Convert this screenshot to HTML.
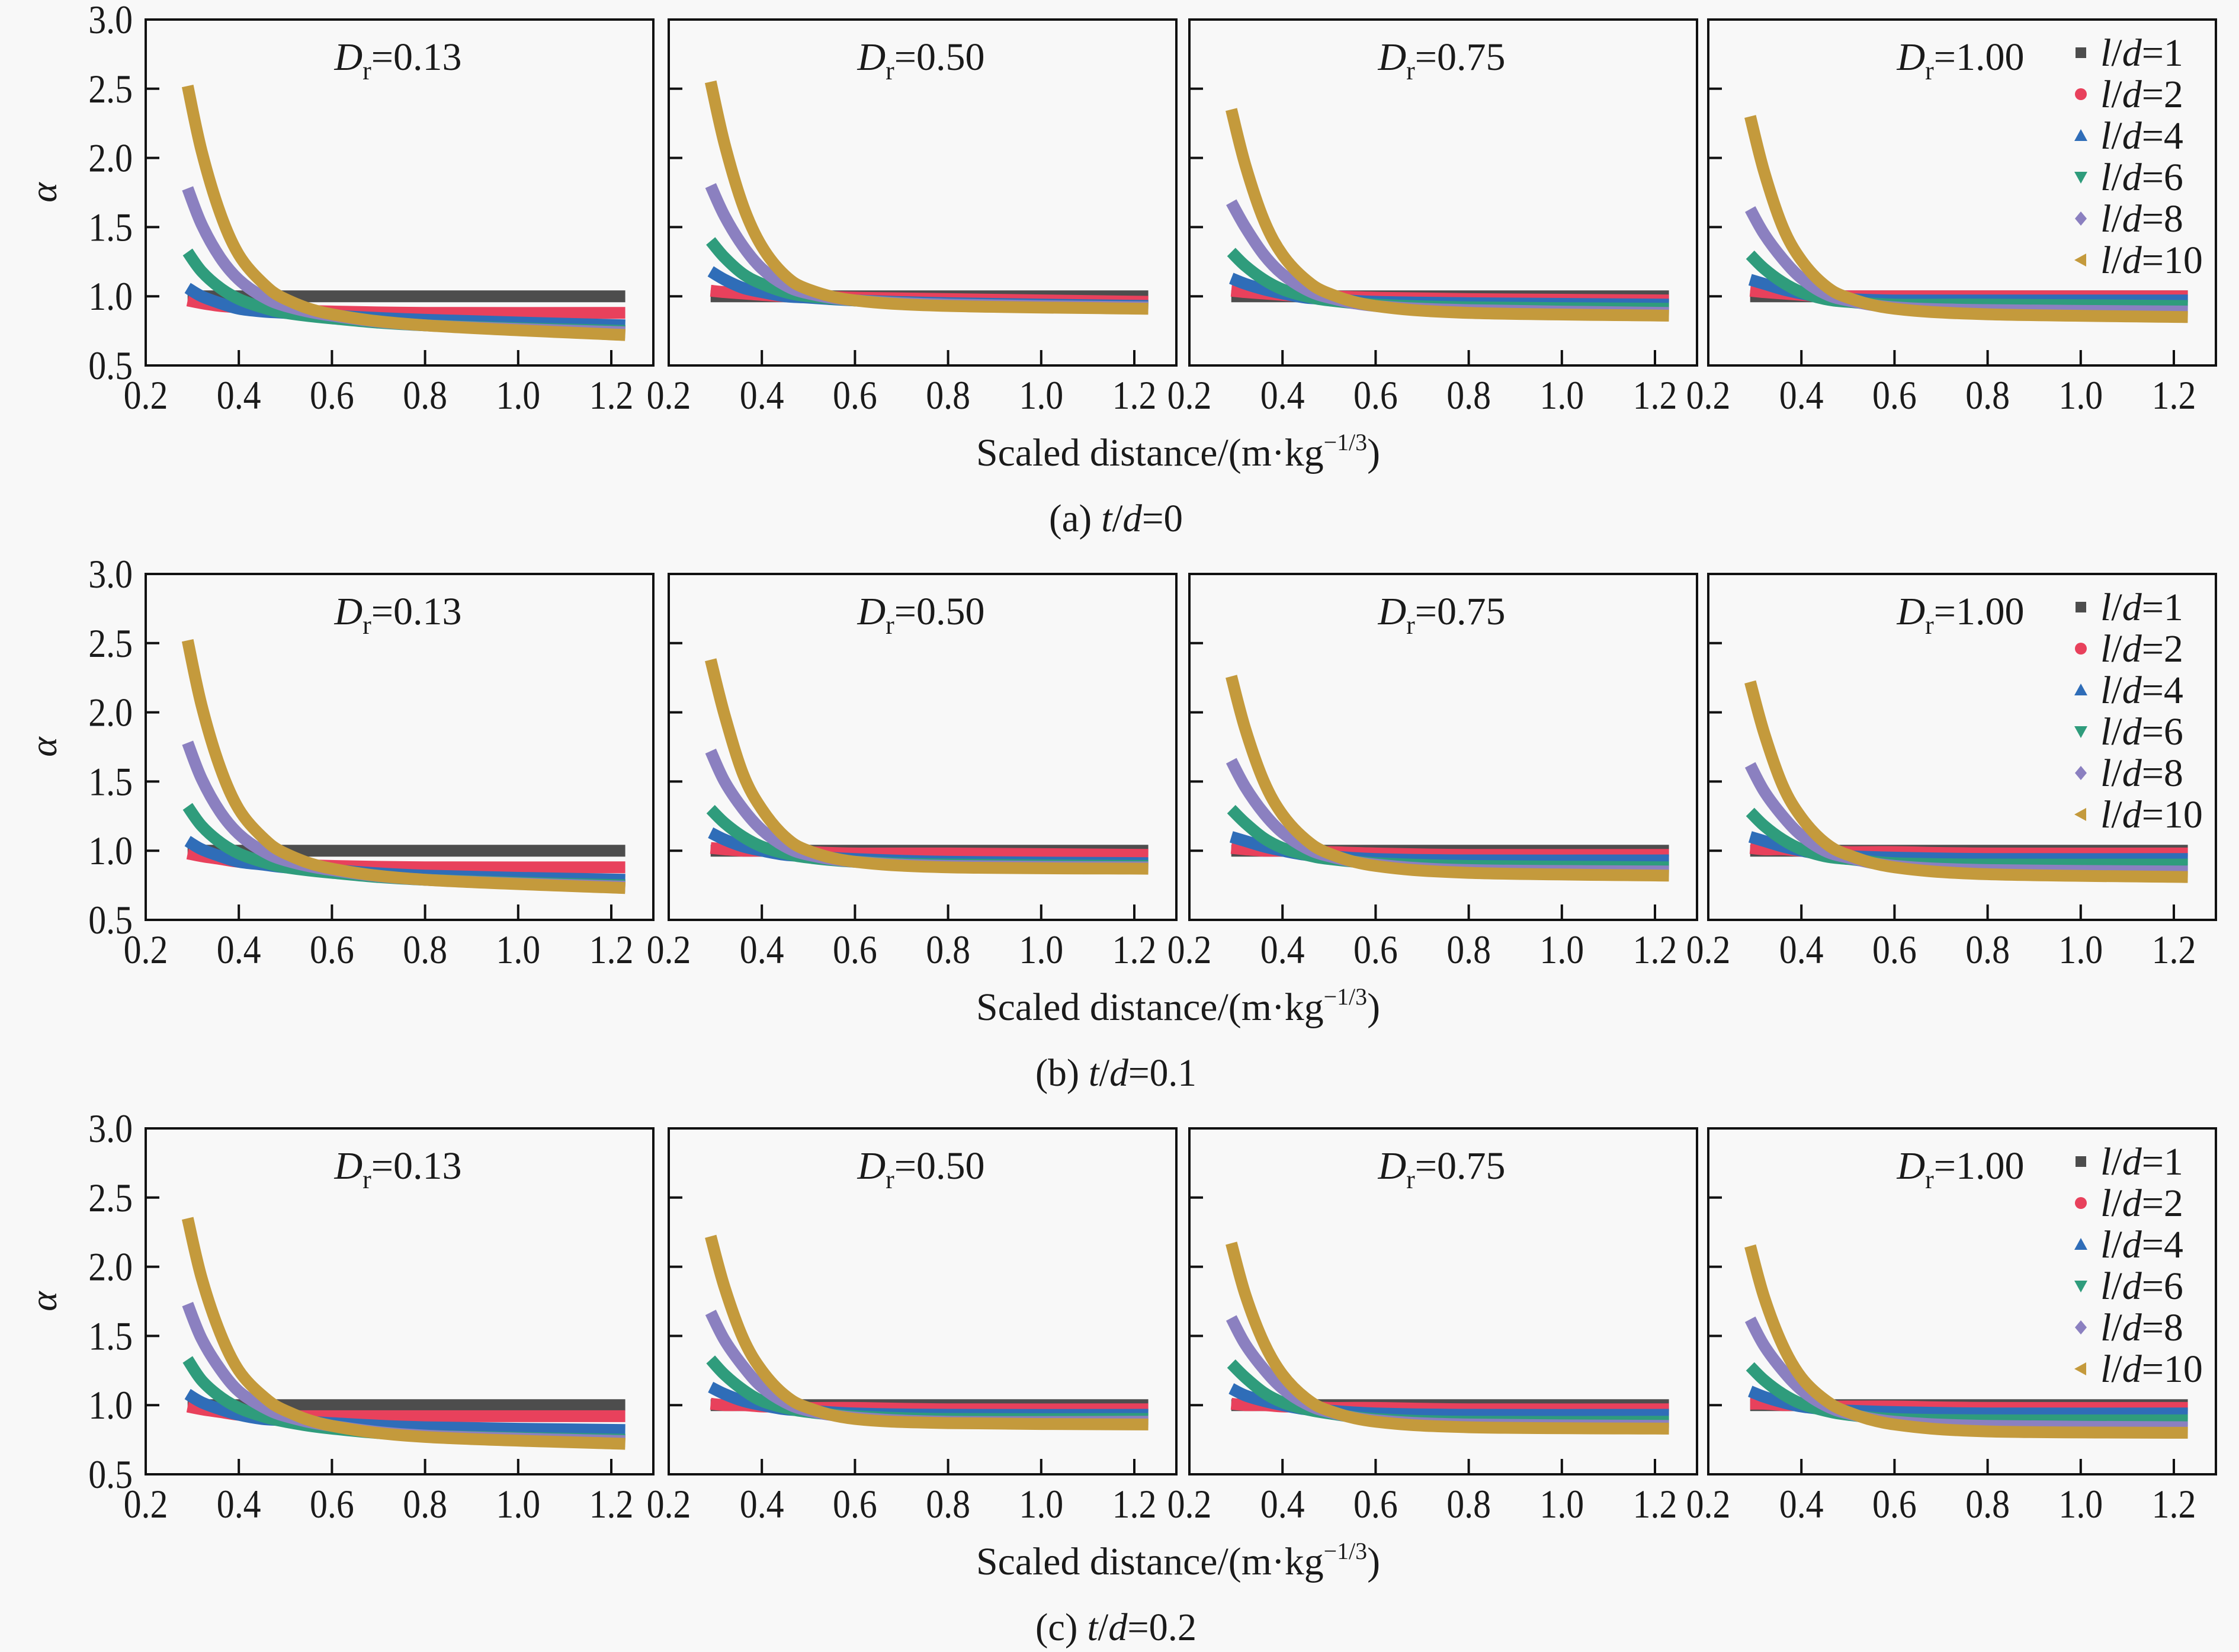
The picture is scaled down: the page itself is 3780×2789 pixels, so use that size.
<!DOCTYPE html>
<html><head><meta charset="utf-8"><style>
html,body{margin:0;padding:0;background:#f8f8f8;}
svg{display:block;font-family:"Liberation Serif",serif;}
</style></head><body>
<svg id="fig" width="3780" height="2789" viewBox="0 0 3780 2789" xmlns="http://www.w3.org/2000/svg">
<rect width="3780" height="2789" fill="#f8f8f8"/>
</svg>
<script>
const xs = [0.29,0.32,0.36,0.4,0.45,0.5,0.6,0.8,1.23];
const seriesLabels = ["1","2","4","6","8","10"];
const drLabels = ["0.13","0.50","0.75","1.00"];
const rowCaptions = [["(a) ","0"],["(b) ","0.1"],["(c) ","0.2"]];
const captionWidths = [226,272,272];
const xTicks = [0.2,0.4,0.6,0.8,1.0,1.2];
const xTickLabels = ["0.2","0.4","0.6","0.8","1.0","1.2"];
const yTicks = [0.5,1.0,1.5,2.0,2.5,3.0];
const yTickLabels = ["0.5","1.0","1.5","2.0","2.5","3.0"];
// row a
const a013 = [[1,1,1,1,1,1,1,1,1],[0.97,0.95,0.93,0.92,0.91,0.90,0.89,0.88,0.88],[1.06,1.0,0.95,0.91,0.89,0.88,0.86,0.83,0.79],[1.32,1.18,1.06,0.98,0.92,0.88,0.84,0.79,0.75],[1.78,1.52,1.28,1.12,1.0,0.93,0.86,0.79,0.74],[2.52,2.05,1.6,1.3,1.1,0.98,0.87,0.79,0.72]];
const a050 = [[1,1,1,1,1,1,1,1,1],[1.04,1.03,1.02,1.01,1.0,1.0,0.99,0.98,0.96],[1.18,1.12,1.06,1.03,1.0,0.99,0.97,0.95,0.93],[1.4,1.28,1.16,1.09,1.03,1.0,0.97,0.94,0.92],[1.8,1.58,1.36,1.2,1.08,1.02,0.97,0.94,0.92],[2.55,2.1,1.65,1.36,1.15,1.05,0.97,0.93,0.91]];
const a075 = [[1,1,1,1,1,1,1,1,1],[1.04,1.03,1.02,1.01,1.0,1.0,0.99,0.98,0.97],[1.13,1.09,1.05,1.02,0.99,0.98,0.96,0.95,0.94],[1.32,1.22,1.12,1.05,1.0,0.97,0.94,0.92,0.91],[1.68,1.5,1.3,1.16,1.05,0.99,0.93,0.9,0.88],[2.35,1.95,1.55,1.3,1.12,1.02,0.93,0.88,0.86]];
const a100 = [[1,1,1,1,1,1,1,1,1],[1.04,1.03,1.02,1.01,1.0,1.0,1.0,1.0,1.0],[1.12,1.09,1.05,1.02,0.99,0.98,0.97,0.97,0.97],[1.3,1.2,1.1,1.03,0.98,0.96,0.94,0.94,0.93],[1.63,1.45,1.27,1.13,1.02,0.97,0.92,0.9,0.89],[2.3,1.9,1.5,1.26,1.08,0.99,0.91,0.87,0.85]];
// row b
const b013 = [[1,1,1,1,1,1,1,1,1],[0.98,0.96,0.94,0.92,0.91,0.90,0.89,0.88,0.88],[1.07,1.01,0.96,0.92,0.9,0.88,0.86,0.82,0.79],[1.32,1.18,1.06,0.98,0.92,0.88,0.84,0.79,0.75],[1.78,1.52,1.28,1.12,1.0,0.93,0.86,0.79,0.74],[2.52,2.05,1.6,1.3,1.1,0.98,0.87,0.79,0.73]];
const b050 = [[1,1,1,1,1,1,1,1,1],[1.02,1.01,1.0,1.0,0.99,0.99,0.98,0.98,0.97],[1.13,1.08,1.03,1.0,0.97,0.96,0.94,0.92,0.91],[1.3,1.2,1.1,1.03,0.98,0.95,0.92,0.9,0.89],[1.72,1.5,1.3,1.15,1.03,0.97,0.92,0.89,0.88],[2.38,1.98,1.55,1.3,1.1,1.0,0.92,0.88,0.87]];
const b075 = [[1,1,1,1,1,1,1,1,1],[1.02,1.01,1.0,1.0,0.99,0.99,0.98,0.97,0.97],[1.1,1.07,1.03,1.0,0.97,0.96,0.94,0.93,0.93],[1.3,1.2,1.09,1.02,0.97,0.94,0.91,0.89,0.88],[1.65,1.46,1.27,1.13,1.02,0.96,0.9,0.86,0.85],[2.26,1.88,1.5,1.26,1.08,0.98,0.89,0.84,0.82]];
const b100 = [[1,1,1,1,1,1,1,1,1],[1.02,1.01,1.01,1.0,1.0,0.99,0.99,0.98,0.98],[1.1,1.07,1.03,1.0,0.97,0.96,0.95,0.94,0.94],[1.28,1.18,1.08,1.01,0.96,0.94,0.91,0.9,0.9],[1.62,1.43,1.25,1.11,1.0,0.95,0.89,0.86,0.85],[2.22,1.85,1.47,1.24,1.06,0.97,0.88,0.83,0.81]];
// row c
const c013 = [[1,1,1,1,1,1,1,1,1],[0.99,0.97,0.95,0.93,0.92,0.92,0.92,0.92,0.92],[1.08,1.02,0.97,0.93,0.9,0.89,0.87,0.84,0.82],[1.33,1.18,1.06,0.98,0.92,0.88,0.83,0.78,0.75],[1.73,1.48,1.26,1.1,0.99,0.92,0.85,0.78,0.74],[2.35,1.92,1.52,1.25,1.07,0.96,0.85,0.77,0.72]];
const c050 = [[1,1,1,1,1,1,1,1,1],[1.01,1.0,1.0,0.99,0.99,0.98,0.98,0.97,0.97],[1.13,1.08,1.03,1.0,0.97,0.96,0.94,0.93,0.93],[1.33,1.22,1.11,1.03,0.98,0.95,0.92,0.9,0.9],[1.67,1.47,1.28,1.13,1.02,0.96,0.91,0.88,0.88],[2.22,1.85,1.48,1.25,1.07,0.98,0.9,0.87,0.86]];
const c075 = [[1,1,1,1,1,1,1,1,1],[1.01,1.0,1.0,0.99,0.99,0.98,0.98,0.97,0.97],[1.12,1.07,1.03,1.0,0.97,0.96,0.94,0.93,0.93],[1.3,1.2,1.09,1.02,0.97,0.94,0.9,0.88,0.88],[1.63,1.44,1.26,1.12,1.01,0.95,0.89,0.86,0.85],[2.17,1.8,1.45,1.22,1.05,0.96,0.88,0.84,0.83]];
const c100 = [[1,1,1,1,1,1,1,1,1],[1.01,1.01,1.0,1.0,0.99,0.99,0.99,0.98,0.98],[1.1,1.06,1.02,0.99,0.97,0.96,0.95,0.94,0.94],[1.28,1.18,1.08,1.01,0.96,0.93,0.9,0.89,0.89],[1.62,1.43,1.25,1.11,1.0,0.94,0.88,0.85,0.84],[2.15,1.78,1.43,1.2,1.04,0.95,0.86,0.81,0.8]];
const panels = [[a013,a050,a075,a100],[b013,b050,b075,b100],[c013,c050,c075,c100]];

const colors = ["#4d4d4d","#e8415c","#2f6db8","#2f9c7c","#8b80c0","#c49a3c"];
const NS = "http://www.w3.org/2000/svg";
const svg = document.getElementById("fig");
function mk(tag, attrs, parent){const e=document.createElementNS(NS,tag);for(const k in attrs)e.setAttribute(k,attrs[k]);(parent||svg).appendChild(e);return e;}

const lefts=[246,1129,2008,2884], W=857, H=584, tops=[33,969,1905];
function xScale(v,L){return L+(v-0.2)/(1.2-0.2)*786;}
function yScale(v,T){return T+H-(v-0.5)/(3.0-0.5)*H;}
function smoothPath(pts){
  let d=`M${pts[0][0]},${pts[0][1]}`;
  for(let i=0;i<pts.length-1;i++){
    const p0=pts[Math.max(i-1,0)],p1=pts[i],p2=pts[i+1],p3=pts[Math.min(i+2,pts.length-1)];
    const c1=[p1[0]+(p2[0]-p0[0])/6,p1[1]+(p2[1]-p0[1])/6];
    const c2=[p2[0]-(p3[0]-p1[0])/6,p2[1]-(p3[1]-p1[1])/6];
    d+=` C${c1[0]},${c1[1]} ${c2[0]},${c2[1]} ${p2[0]},${p2[1]}`;
  }
  return d;
}
function markerShape(i,cx,cy,g){
  const s=9;
  if(i===0){mk("rect",{x:cx-s,y:cy-s,width:2*s,height:2*s,fill:colors[i]},g);}
  else if(i===1){mk("circle",{cx:cx,cy:cy,r:s+1,fill:colors[i]},g);}
  else if(i===2){mk("polygon",{points:`${cx},${cy-s-2} ${cx-s-2},${cy+s} ${cx+s+2},${cy+s}`,fill:colors[i]},g);}
  else if(i===3){mk("polygon",{points:`${cx},${cy+s+2} ${cx-s-2},${cy-s} ${cx+s+2},${cy-s}`,fill:colors[i]},g);}
  else if(i===4){mk("polygon",{points:`${cx},${cy-s-3} ${cx+s+1},${cy} ${cx},${cy+s+3} ${cx-s-1},${cy}`,fill:colors[i]},g);}
  else {mk("polygon",{points:`${cx-s-2},${cy} ${cx+s},${cy-s-2} ${cx+s},${cy+s+2}`,fill:colors[i]},g);}
}

for(let r=0;r<3;r++){
  const T=tops[r];
  for(let p=0;p<4;p++){
    const L=lefts[p];
    const g=mk("g",{});
    
    
    const data=panels[r][p];
    data.forEach((ser,si)=>{
      const pts=xs.map((x,k)=>[xScale(x,L),yScale(ser[k],T)]);
      const path=mk("path",{d:smoothPath(pts),fill:"none",stroke:colors[si],"stroke-width":20,"stroke-linejoin":"round"},g);
      
      
    });
    const frame=mk("rect",{x:L,y:T,width:W,height:H,fill:"none",stroke:"#111","stroke-width":4},g);
    
    
    xTicks.forEach((t,k)=>{
      const x=xScale(t,L);
      if(k>0) mk("line",{x1:x,y1:T+H,x2:x,y2:T+H-26,stroke:"#111","stroke-width":4},g);
      const tl=mk("text",{x:0,y:0,transform:`translate(${x},${T+H+73}) scale(0.88,1)`,"font-size":68,"text-anchor":"middle",fill:"#1a1a1a"},g);
      tl.textContent=xTickLabels[k];
      
      
    });
    yTicks.forEach((t,k)=>{
      const y=yScale(t,T);
      if(k>0&&k<yTicks.length-1) mk("line",{x1:L,y1:y,x2:L+23,y2:y,stroke:"#111","stroke-width":4},g);
      if(p===0){
        const tl=mk("text",{x:0,y:0,transform:`translate(${L-22},${y+23}) scale(0.88,1)`,"font-size":68,"text-anchor":"end",fill:"#1a1a1a"},g);
        tl.textContent=yTickLabels[k];
        
        
      }
    });
    const dl=mk("text",{x:L+426,y:T+85,"font-size":66,"text-anchor":"middle",fill:"#1a1a1a"},g);
    dl.innerHTML='<tspan font-style="italic">D</tspan><tspan font-size="44" dy="16">r</tspan><tspan dy="-16">='+drLabels[p]+'</tspan>';
    
    
    if(p===3){
      const lg=mk("g",{},g);
      
      
      seriesLabels.forEach((s,si)=>{
        const cy=T+56+si*70;
        markerShape(si,3513,cy,lg);
        const lt=mk("text",{x:3546,y:cy+22,"font-size":66,fill:"#1a1a1a"},lg);
        lt.innerHTML='<tspan font-style="italic">l</tspan>/<tspan font-style="italic">d</tspan>='+s;
        
        
      });
    }
  }
  const ya=mk("text",{x:95,y:T+H/2,"font-size":64,"font-style":"italic","text-anchor":"middle",transform:`rotate(-90 95 ${T+H/2})`,fill:"#1a1a1a"});
  ya.textContent="α";
  
  
  const xa=mk("text",{x:1648,y:T+753,"font-size":66,fill:"#1a1a1a",textLength:682,lengthAdjust:"spacingAndGlyphs"});
  xa.innerHTML='Scaled distance/(m·kg<tspan font-size="40" dy="-26">−1/3</tspan><tspan dy="26">)</tspan>';
  
  
  const cap=mk("text",{x:1884-captionWidths[r]/2,y:T+864,"font-size":66,fill:"#1a1a1a",textLength:captionWidths[r],lengthAdjust:"spacingAndGlyphs"});
  cap.innerHTML=rowCaptions[r][0]+'<tspan font-style="italic">t</tspan>/<tspan font-style="italic">d</tspan>='+rowCaptions[r][1];
  
  
}
</script>
</body></html>
